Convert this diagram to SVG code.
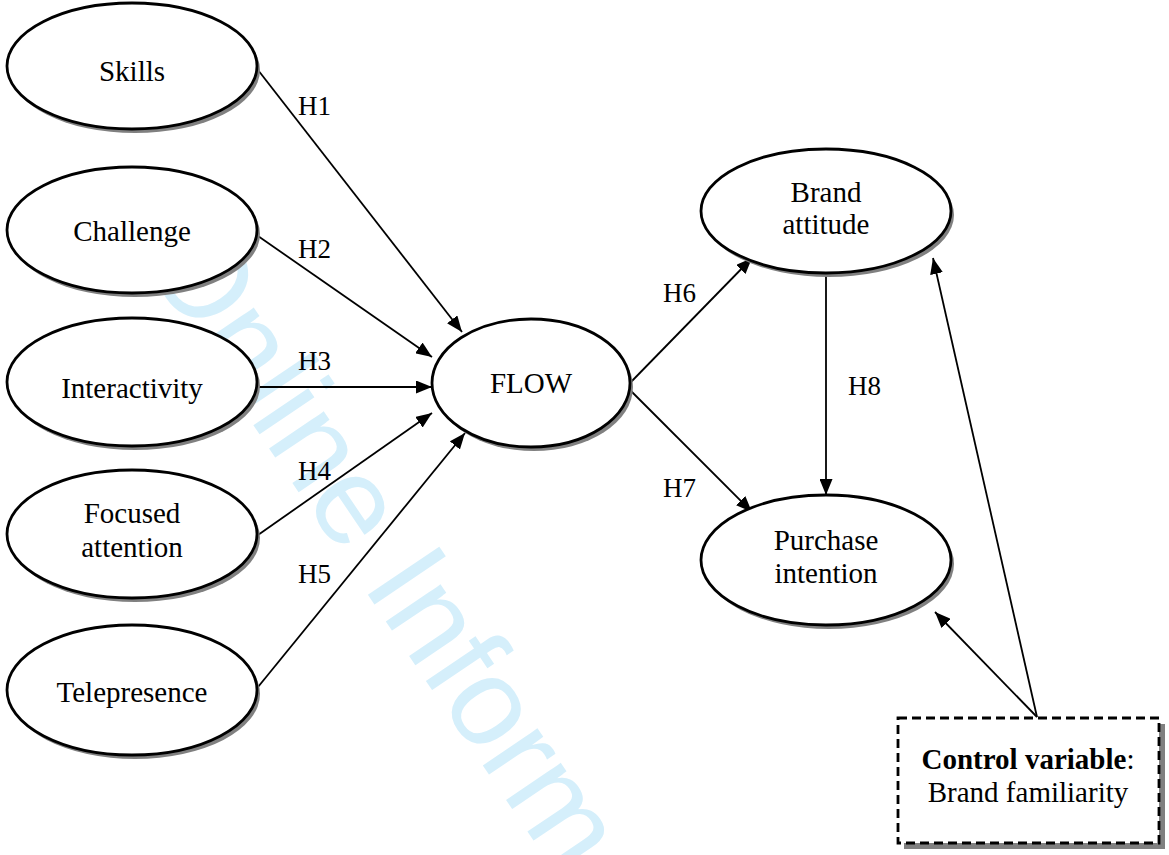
<svg xmlns="http://www.w3.org/2000/svg" width="1169" height="855" viewBox="0 0 1169 855">
<style>
.wm{font-family:"Liberation Sans",Arial,sans-serif;font-size:125px;fill:#d5effb}
.sh{fill:#808080}
.el{fill:#ffffff;stroke:#000000;stroke-width:2.8}
.t{font-family:"Liberation Serif","Times New Roman",serif;font-size:29px;fill:#000000;text-anchor:middle}
.h{font-family:"Liberation Serif","Times New Roman",serif;font-size:27px;fill:#000000}
.c{stroke:#000000;stroke-width:1.8;fill:none;marker-end:url(#ah)}
</style>
<defs>
<marker id="ah" markerUnits="userSpaceOnUse" markerWidth="17" markerHeight="13" refX="16" refY="6.5" orient="auto">
<path d="M0,0 L16,6.5 L0,13 z" fill="#000000"/>
</marker>
</defs>
<rect width="1169" height="855" fill="#ffffff"/>
<text class="wm" x="140" y="257" transform="rotate(56 140 257)">Online Information Review</text>

<g id="connectors">
<line class="c" x1="258" y1="70" x2="462" y2="332"/>
<line class="c" x1="258" y1="236" x2="432" y2="357"/>
<line class="c" x1="258" y1="387" x2="432" y2="387"/>
<line class="c" x1="258" y1="535" x2="432" y2="413"/>
<line class="c" x1="258" y1="687" x2="465" y2="433"/>
<line class="c" x1="630" y1="383" x2="752" y2="258"/>
<line class="c" x1="630" y1="390" x2="752" y2="512"/>
<line class="c" x1="826" y1="275" x2="826" y2="495"/>
<line class="c" x1="1037" y1="717" x2="933" y2="258"/>
<line class="c" x1="1037" y1="717" x2="935" y2="612"/>
<text class="h" x="298" y="115">H1</text>
<text class="h" x="298" y="258">H2</text>
<text class="h" x="298" y="370">H3</text>
<text class="h" x="298" y="480">H4</text>
<text class="h" x="298" y="583">H5</text>
<text class="h" x="663" y="302">H6</text>
<text class="h" x="663" y="497">H7</text>
<text class="h" x="848" y="395">H8</text>
</g>

<g id="skills">
<ellipse class="sh" cx="135" cy="70" rx="125" ry="63"/>
<ellipse class="el" cx="132" cy="66" rx="125" ry="63"/>
<text class="t" x="132" y="81">Skills</text>
</g>
<g id="challenge">
<ellipse class="sh" cx="135" cy="234" rx="125" ry="63"/>
<ellipse class="el" cx="132" cy="230" rx="125" ry="63"/>
<text class="t" x="132" y="241">Challenge</text>
</g>
<g id="interactivity">
<ellipse class="sh" cx="135" cy="386" rx="125" ry="64"/>
<ellipse class="el" cx="132" cy="382" rx="125" ry="64"/>
<text class="t" x="132" y="398">Interactivity</text>
</g>
<g id="focused-attention">
<ellipse class="sh" cx="135" cy="538" rx="125" ry="64"/>
<ellipse class="el" cx="132" cy="534" rx="125" ry="64"/>
<text class="t" x="132" y="523">Focused</text>
<text class="t" x="132" y="557">attention</text>
</g>
<g id="telepresence">
<ellipse class="sh" cx="135" cy="694" rx="125" ry="65"/>
<ellipse class="el" cx="132" cy="690" rx="125" ry="65"/>
<text class="t" x="132" y="702">Telepresence</text>
</g>
<g id="flow">
<ellipse class="sh" cx="534" cy="387" rx="99" ry="64"/>
<ellipse class="el" cx="531" cy="383" rx="99" ry="64"/>
<text class="t" x="531" y="393">FLOW</text>
</g>
<g id="brand-attitude">
<ellipse class="sh" cx="829" cy="215" rx="125" ry="62"/>
<ellipse class="el" cx="826" cy="211" rx="125" ry="62"/>
<text class="t" x="826" y="202">Brand</text>
<text class="t" x="826" y="234">attitude</text>
</g>
<g id="purchase-intention">
<ellipse class="sh" cx="829" cy="564" rx="125" ry="65"/>
<ellipse class="el" cx="826" cy="560" rx="125" ry="65"/>
<text class="t" x="826" y="550">Purchase</text>
<text class="t" x="826" y="583">intention</text>
</g>
<g id="control-variable">
<rect x="904" y="724" width="261" height="125" fill="#808080"/>
<rect x="898" y="718" width="261" height="125" fill="#ffffff" stroke="#000000" stroke-width="2.8" stroke-dasharray="9,5"/>
<text class="t" x="1028" y="769"><tspan font-weight="bold">Control variable</tspan>:</text>
<text class="t" x="1028" y="802">Brand familiarity</text>
</g>
</svg>
